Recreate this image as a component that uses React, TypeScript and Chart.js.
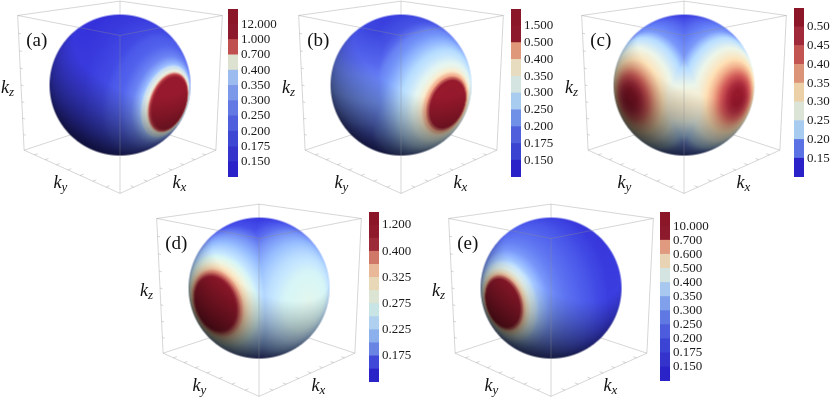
import { useEffect, useRef } from 'react'
import { Chart, registerables } from 'chart.js'

Chart.register(...registerables)

// ---- colour bars: contour levels (bottom -> top) and band colours (one band more than levels)
const levelsA = [0.15, 0.175, 0.2, 0.25, 0.3, 0.35, 0.4, 0.7, 1.0, 12.0]
const bandsA = ['#2a22c8', '#3434cc', '#3e46d4', '#4e5edc', '#6278e2', '#7c98e8', '#9cbcf0', '#dde2d0', '#c05050', '#8c1a2c', '#8a1628']
const levelsB = [0.15, 0.175, 0.2, 0.25, 0.3, 0.35, 0.4, 0.5, 1.5]
const bandsB = ['#2a22c8', '#3a44d0', '#5060dc', '#7090e8', '#a8ccf0', '#d4e4e0', '#e8dcc0', '#e0987a', '#8c1a2c', '#8a1628']
const levelsC = [0.15, 0.2, 0.25, 0.3, 0.35, 0.4, 0.45, 0.5]
const bandsC = ['#2a22c8', '#5a72e4', '#a8ccf0', '#dce4d8', '#ecd0a8', '#dc9478', '#c25452', '#a02a3a', '#8a1628']
const levelsD = [0.15, 0.175, 0.2, 0.225, 0.25, 0.275, 0.3, 0.325, 0.35, 0.4, 0.8, 1.2]
const bandsD = ['#2a24c8', '#4048d8', '#6a84e4', '#8cb0ec', '#b0d0f0', '#c8e4e4', '#dce4d4', '#e8d8b8', '#e8b898', '#d07868', '#9c2a38', '#8e1a2c', '#8a1628']
const levelsE = [0.15, 0.175, 0.2, 0.25, 0.3, 0.35, 0.4, 0.5, 0.6, 0.7, 10.0]
const bandsE = ['#2a24c8', '#3434cc', '#3c44d4', '#4c5cdc', '#6078e2', '#80a0ec', '#a8c8f0', '#d4e4e0', '#e8d4b4', '#e09a80', '#8c1a2c', '#8a1628']

// ---- surface values: angle from the hot pole (deg) -> value
const hotAngA = [0, 21, 24, 26, 29, 33, 40, 50, 65, 85, 110, 180]
const hotValA = [14, 13, 1.05, 0.65, 0.45, 0.36, 0.28, 0.22, 0.185, 0.165, 0.152, 0.14]
const hotAngB = [0, 19, 22, 24, 27, 32, 40, 52, 65, 80, 100, 180]
const hotValB = [2.0, 1.7, 0.55, 0.45, 0.39, 0.34, 0.3, 0.255, 0.21, 0.17, 0.155, 0.15]
const hotAngC = [0, 8, 14, 20, 26, 34, 45, 60, 90]
const hotValC = [0.56, 0.51, 0.46, 0.41, 0.36, 0.31, 0.26, 0.19, 0.14]
const hotAngD = [0, 22, 25, 27, 30, 36, 45, 55, 65, 75, 90, 180]
const hotValD = [1.6, 1.3, 0.42, 0.37, 0.33, 0.29, 0.24, 0.21, 0.185, 0.165, 0.152, 0.145]
const warmAngD = [0, 25, 45, 70, 90]
const warmValD = [0.275, 0.26, 0.225, 0.175, 0.15]
const hotAngE = [0, 19, 22, 24, 27, 31, 37, 46, 60, 80, 105, 140, 180]
const hotValE = [12, 10.5, 0.75, 0.62, 0.52, 0.43, 0.36, 0.3, 0.25, 0.2, 0.165, 0.155, 0.15]

// ---- background value vs |latitude| (deg)
const latA = [0, 30, 60, 90]
const baseA = [0.17, 0.165, 0.155, 0.15]
const latB = [0, 30, 60, 90]
const baseB = [0.22, 0.19, 0.16, 0.15]
const latC = [0, 10, 20, 30, 40, 50, 90]
const baseC = [0.3, 0.29, 0.26, 0.225, 0.19, 0.15, 0.13]
const latD = [0, 20, 40, 60, 90]
const baseD = [0.21, 0.2, 0.175, 0.155, 0.145]
const latE = [0, 30, 60, 90]
const baseE = [0.17, 0.165, 0.155, 0.145]

// box ticks on the three labelled edges
const boxTicks = [-0.75, -0.5, -0.25, 0, 0.25, 0.5, 0.75]

// camera
const ELEV = (16 * Math.PI) / 180
const DIST = 8.5
const CE = Math.cos(ELEV)
const SE = Math.sin(ELEV)
const SPHERE_R = 1 / Math.sqrt(1 - 1 / (DIST * DIST))
const PX = 70

interface Hot {
  dir: number[]
  ang: number[]
  val: number[]
}
interface PanelDef {
  tag: string
  cx: number
  cy: number
  barX: number
  barY: number
  barH: number
  levels: number[]
  bands: string[]
  digits: number
  every: number
  hot: Hot[]
  lat: number[]
  base: number[]
}

const PANELS: PanelDef[] = [
  { tag: '(a)', cx: 120, cy: 85, barX: 228, barY: 9, barH: 168, levels: levelsA, bands: bandsA, digits: 3, every: 1,
    hot: [{ dir: [-0.08, 1, -0.1], ang: hotAngA, val: hotValA }], lat: latA, base: baseA },
  { tag: '(b)', cx: 401, cy: 85, barX: 511, barY: 9, barH: 168, levels: levelsB, bands: bandsB, digits: 3, every: 1,
    hot: [{ dir: [0, 1, -0.1], ang: hotAngB, val: hotValB }], lat: latB, base: baseB },
  { tag: '(c)', cx: 684, cy: 85, barX: 794, barY: 8, barH: 169, levels: levelsC, bands: bandsC, digits: 2, every: 1,
    hot: [{ dir: [1, -0.08, 0], ang: hotAngC, val: hotValC }, { dir: [-0.08, 1, 0], ang: hotAngC, val: hotValC }], lat: latC, base: baseC },
  { tag: '(d)', cx: 258.5, cy: 287.5, barX: 369, barY: 212, barH: 170, levels: levelsD, bands: bandsD, digits: 3, every: 2,
    hot: [{ dir: [1, 0.05, -0.04], ang: hotAngD, val: hotValD }, { dir: [0, 1, 0], ang: warmAngD, val: warmValD }], lat: latD, base: baseD },
  { tag: '(e)', cx: 550.7, cy: 287.5, barX: 660, barY: 212, barH: 169, levels: levelsE, bands: bandsE, digits: 3, every: 1,
    hot: [{ dir: [1, -0.03, -0.04], ang: hotAngE, val: hotValE }], lat: latE, base: baseE },
]

const FRONT_EDGES = [
  [[1, 1, -1], [1, 1, 1]],
  [[1, 1, 1], [1, -1, 1]],
  [[1, 1, 1], [-1, 1, 1]],
  [[1, 1, -1], [1, -1, -1]],
  [[1, 1, -1], [-1, 1, -1]],
  [[1, -1, -1], [1, -1, 1]],
  [[-1, 1, -1], [-1, 1, 1]],
]
const BACK_EDGES = [
  [[-1, -1, -1], [-1, -1, 1]],
  [[-1, -1, 1], [1, -1, 1]],
  [[-1, -1, 1], [-1, 1, 1]],
  [[-1, -1, -1], [1, -1, -1]],
  [[-1, -1, -1], [-1, 1, -1]],
]

function project(p: number[]) {
  const [x, y, z] = p
  const a = (y - x) / Math.SQRT2
  const b = (x + y) / Math.SQRT2
  const v = z * CE - b * SE
  const w = b * CE + z * SE
  const s = DIST / (DIST - w)
  return { x: a * s, y: v * s }
}

function segPoints(segs: number[][][]) {
  const pts: { x: number; y: number }[] = []
  segs.forEach(([p0, p1]) => {
    pts.push(project(p0), project(p1), { x: NaN, y: NaN })
  })
  return pts
}

function tickSegs() {
  const TL = 0.06
  const out: number[][][] = []
  boxTicks.forEach((t) => {
    out.push([[1, -1, t], [1, -1 + TL, t]]) // kz edge
    out.push([[1, t, -1], [1 - TL, t, -1]]) // ky edge
    out.push([[t, 1, -1], [t, 1 - TL, -1]]) // kx edge
  })
  return out
}

function interp(xs: number[], ys: number[], x: number) {
  if (x <= xs[0]) return ys[0]
  for (let i = 1; i < xs.length; i++) {
    if (x <= xs[i]) {
      const t = (x - xs[i - 1]) / (xs[i] - xs[i - 1])
      return ys[i - 1] + t * (ys[i] - ys[i - 1])
    }
  }
  return ys[ys.length - 1]
}

function hexToRgb(h: string) {
  const n = parseInt(h.slice(1), 16)
  return [(n >> 16) & 255, (n >> 8) & 255, n & 255]
}

// value -> position on the colour bar (band i spans [i, i+1])
function bandPos(v: number, lv: number[]) {
  const n = lv.length
  if (v <= lv[0]) {
    const lo = lv[0] - (lv[1] - lv[0])
    return Math.max(0, (v - lo) / (lv[0] - lo))
  }
  for (let i = 1; i < n; i++) {
    if (v <= lv[i]) return i + (v - lv[i - 1]) / (lv[i] - lv[i - 1])
  }
  return n + Math.min(1, (v - lv[n - 1]) / (lv[n - 1] - lv[n - 2]))
}

function colourAt(pos: number, rgb: number[][]) {
  const q = pos - 0.5
  const i0 = Math.max(0, Math.min(rgb.length - 1, Math.floor(q)))
  const i1 = Math.min(rgb.length - 1, i0 + 1)
  const t = Math.max(0, Math.min(1, q - i0))
  return [0, 1, 2].map((c) => rgb[i0][c] + t * (rgb[i1][c] - rgb[i0][c]))
}

const LIGHT = [0.35, 0.78, 0.52]
function shade(nx: number, ny: number, nz: number) {
  const d = nx * LIGHT[0] + ny * LIGHT[1] + nz * LIGHT[2]
  const raw = 0.75 + 0.7 * d
  const b = raw < 0.42 ? 0.22 + 0.2 * Math.exp((raw - 0.42) / 0.2) : raw
  return Math.min(b, 1.08)
}

function makeSpherePlugin(p: PanelDef) {
  const rgb = p.bands.map(hexToRgb)
  const hots = p.hot.map((h) => {
    const l = Math.hypot(h.dir[0], h.dir[1], h.dir[2])
    return { d: h.dir.map((c) => c / l), ang: h.ang, val: h.val }
  })
  const field = (x: number, y: number, z: number) => {
    const lat = (Math.abs(Math.asin(Math.max(-1, Math.min(1, z)))) * 180) / Math.PI
    let v = interp(p.lat, p.base, lat)
    hots.forEach((h) => {
      const c = Math.max(-1, Math.min(1, x * h.d[0] + y * h.d[1] + z * h.d[2]))
      v = Math.max(v, interp(h.ang, h.val, (Math.acos(c) * 180) / Math.PI))
    })
    return v
  }
  return {
    id: 'sphere' + p.tag,
    beforeDatasetDraw(chart: any, args: any) {
      if (args.index !== 0) return
      const xs = chart.scales.x
      const ys = chart.scales.y
      const cx = xs.getPixelForValue(0)
      const cy = ys.getPixelForValue(0)
      const R = (xs.getPixelForValue(1) - cx) * SPHERE_R
      const dpr = chart.currentDevicePixelRatio || 1
      const half = R + 1
      const size = Math.ceil(2 * half * dpr)
      const off = document.createElement('canvas')
      off.width = size
      off.height = size
      const octx = off.getContext('2d')
      if (!octx) return
      const img = octx.createImageData(size, size)
      for (let j = 0; j < size; j++) {
        const py = (j + 0.5) / dpr - half
        for (let i = 0; i < size; i++) {
          const px = (i + 0.5) / dpr - half
          const dist = Math.hypot(px, py)
          const cover = Math.min(1, Math.max(0, R - dist + 0.5))
          if (cover <= 0) continue
          const nx = Math.max(-1, Math.min(1, px / R))
          const ny = Math.max(-1, Math.min(1, -py / R))
          const nz = Math.sqrt(Math.max(0, 1 - nx * nx - ny * ny))
          const b = nz * CE - ny * SE
          const z = ny * CE + nz * SE
          const x = (b - nx) / Math.SQRT2
          const y = (nx + b) / Math.SQRT2
          const col = colourAt(bandPos(field(x, y, z), p.levels), rgb)
          const s = shade(nx, ny, nz)
          const k = (j * size + i) * 4
          img.data[k] = Math.min(255, col[0] * s)
          img.data[k + 1] = Math.min(255, col[1] * s)
          img.data[k + 2] = Math.min(255, col[2] * s)
          img.data[k + 3] = cover * 255
        }
      }
      octx.putImageData(img, 0, 0)
      chart.ctx.drawImage(off, cx - half, cy - half, size / dpr, size / dpr)
    },
    afterDraw(chart: any) {
      const ctx = chart.ctx
      const xs = chart.scales.x
      const ys = chart.scales.y
      ctx.save()
      ctx.fillStyle = '#111'
      ctx.textAlign = 'left'
      ctx.textBaseline = 'alphabetic'
      const labels: [string, number, number][] = [
        ['z', -1.7, -0.11],
        ['y', -0.95, -1.47],
        ['x', 0.75, -1.47],
      ]
      labels.forEach(([sub, ux, uy]) => {
        const px = xs.getPixelForValue(ux)
        const py = ys.getPixelForValue(uy)
        ctx.font = 'italic 18px "Liberation Serif"'
        ctx.fillText('k', px, py)
        const w = ctx.measureText('k').width
        ctx.font = 'italic 13px "Liberation Serif"'
        ctx.fillText(sub, px + w, py + 3)
      })
      ctx.font = '19px "Liberation Serif"'
      ctx.fillText(p.tag, xs.getPixelForValue(-1.34), ys.getPixelForValue(0.56))
      ctx.restore()
    },
  }
}

function SpherePanel({ p }: { p: PanelDef }) {
  const canvasRef = useRef<HTMLCanvasElement>(null)

  useEffect(() => {
    if (!canvasRef.current) return
    const chart = new Chart(canvasRef.current, {
      type: 'scatter',
      data: {
        datasets: [
          {
            data: segPoints([...FRONT_EDGES, ...tickSegs()]),
            showLine: true,
            spanGaps: false,
            borderColor: 'rgba(140,140,140,0.4)',
            borderWidth: 0.9,
            pointRadius: 0,
          },
          {
            data: segPoints(BACK_EDGES),
            showLine: true,
            spanGaps: false,
            borderColor: 'rgba(140,140,140,0.4)',
            borderWidth: 0.9,
            pointRadius: 0,
          },
        ],
      },
      options: {
        animation: false,
        responsive: true,
        maintainAspectRatio: false,
        events: [],
        layout: { padding: 0 },
        plugins: { legend: { display: false }, tooltip: { enabled: false } },
        scales: {
          x: { type: 'linear', display: false, min: -120 / PX, max: 105 / PX },
          y: { type: 'linear', display: false, min: -117 / PX, max: 85 / PX },
        },
      },
      plugins: [makeSpherePlugin(p)],
    })
    return () => chart.destroy()
  }, [p])

  return (
    <div style={{ position: 'absolute', left: p.cx - 120, top: p.cy - 85, width: 225, height: 202 }}>
      <canvas ref={canvasRef}></canvas>
    </div>
  )
}

function ColourBar({ p }: { p: PanelDef }) {
  const canvasRef = useRef<HTMLCanvasElement>(null)

  useEffect(() => {
    if (!canvasRef.current) return
    const n = p.bands.length
    const chart = new Chart(canvasRef.current, {
      type: 'bar',
      data: {
        labels: [''],
        datasets: p.bands.map((c) => ({
          data: [1],
          backgroundColor: c,
          borderWidth: 0,
          barPercentage: 1,
          categoryPercentage: 1,
        })),
      },
      options: {
        animation: false,
        responsive: true,
        maintainAspectRatio: false,
        events: [],
        layout: { padding: 0 },
        plugins: { legend: { display: false }, tooltip: { enabled: false } },
        scales: {
          x: { stacked: true, display: false },
          y: {
            stacked: true,
            position: 'right',
            min: 0,
            max: n,
            border: { display: false },
            grid: { display: false, drawTicks: false },
            afterFit: (s: any) => {
              s.width = 52
              s.paddingTop = 0
              s.paddingBottom = 0
            },
            ticks: {
              stepSize: 1,
              autoSkip: false,
              padding: 3,
              color: '#1a1a1a',
              font: { family: 'Liberation Serif', size: 13 },
              callback: (v: any) => {
                const i = Number(v)
                if (i <= 0 || i >= n) return null
                if (i % p.every !== 0) return null
                return p.levels[i - 1].toFixed(p.digits)
              },
            },
          },
        },
      },
    })
    return () => chart.destroy()
  }, [p])

  return (
    <div style={{ position: 'absolute', left: p.barX, top: p.barY, width: 62, height: p.barH }}>
      <canvas ref={canvasRef}></canvas>
    </div>
  )
}

export default function App() {
  return (
    <div style={{ position: 'absolute', left: 0, top: 0, width: 830, height: 407, background: '#fff', overflow: 'hidden' }}>
      {PANELS.map((p) => (
        <div key={p.tag}>
          <SpherePanel p={p} />
          <ColourBar p={p} />
        </div>
      ))}
    </div>
  )
}
